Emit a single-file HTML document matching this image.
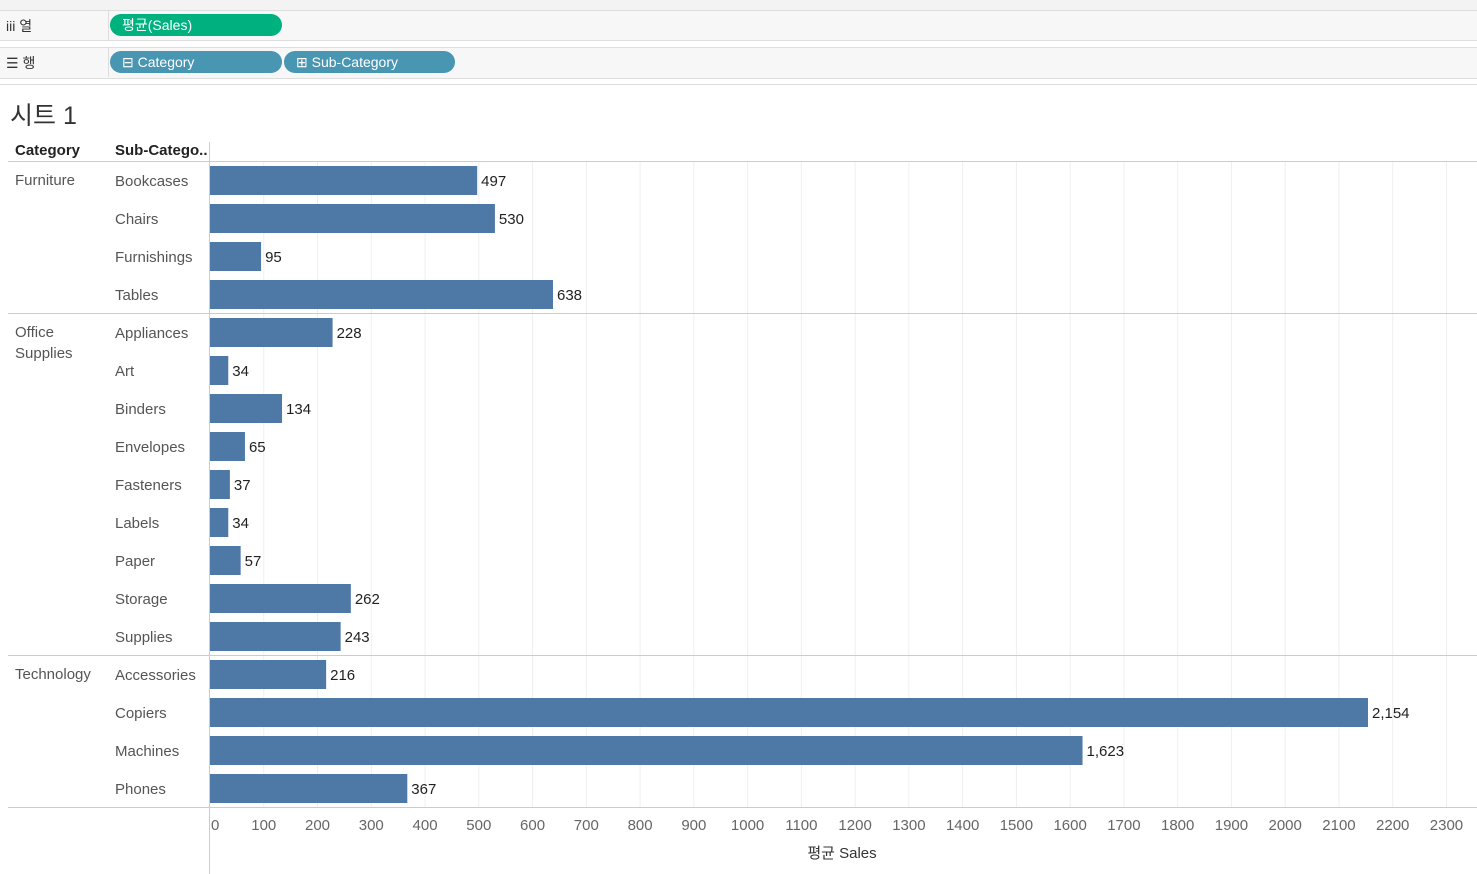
<!DOCTYPE html>
<html><head><meta charset="utf-8">
<style>
body{margin:0;width:1477px;height:874px;overflow:hidden;background:#fff;font-family:"Liberation Sans","Noto Sans CJK KR",sans-serif;position:relative}
.abs{position:absolute}
.pill{position:absolute;height:22px;border-radius:11px;color:#fff;font-size:14px;line-height:22px;padding-left:12px;box-sizing:border-box}
.t{position:absolute;font-size:14px;color:#555;white-space:nowrap}
</style></head><body>
<div class="abs" style="left:0;top:0;width:1477px;height:10px;background:#f3f3f3;border-bottom:1px solid #ddd"></div>
<div class="abs" style="left:0;top:11px;width:1477px;height:29px;background:#f7f7f7;border-bottom:1px solid #ddd"></div>
<div class="abs" style="left:108px;top:11px;width:1px;height:29px;background:#ddd"></div>
<div class="t" style="left:6px;top:16px;color:#333">iii 열</div>
<div class="pill" style="left:110px;top:14px;width:172px;background:#00b180">평균(Sales)</div>
<div class="abs" style="left:0;top:47px;width:1477px;height:30px;background:#f7f7f7;border-top:1px solid #ddd;border-bottom:1px solid #ddd"></div>
<div class="abs" style="left:108px;top:48px;width:1px;height:29px;background:#ddd"></div>
<div class="t" style="left:6px;top:53px;color:#333">☰ 행</div>
<div class="pill" style="left:110px;top:51px;width:172px;background:#4996b2">⊟ Category</div>
<div class="pill" style="left:284px;top:51px;width:171px;background:#4996b2">⊞ Sub-Category</div>
<div class="abs" style="left:0;top:84px;width:1477px;height:1px;background:#ddd"></div>
<div class="t" style="left:10px;top:96px;font-size:25px;color:#333">시트 1</div>
<div class="t" style="left:15px;top:142px;color:#222;font-size:15px;font-weight:bold">Category</div>
<div class="t" style="left:115px;top:142px;color:#222;font-size:15px;font-weight:bold">Sub-Catego..</div>
<svg id="chart" class="abs" style="left:0;top:0" width="1477" height="874"></svg>
<script>
const categories=["Furniture","Office\nSupplies","Technology"];
const subCats=["Bookcases","Chairs","Furnishings","Tables","Appliances","Art","Binders","Envelopes","Fasteners","Labels","Paper","Storage","Supplies","Accessories","Copiers","Machines","Phones"];
const groupSizes=[4,9,4];
const values=[497,530,95,638,228,34,134,65,37,34,57,262,243,216,2154,1623,367];
const ticks=[0,100,200,300,400,500,600,700,800,900,1000,1100,1200,1300,1400,1500,1600,1700,1800,1900,2000,2100,2200,2300];
const svg=document.getElementById('chart');const NS='http://www.w3.org/2000/svg';
const x=v=>210+v*0.5376;const top0=161,rh=38;
function mk(t,a){const e=document.createElementNS(NS,t);for(const k in a)e.setAttribute(k,a[k]);svg.appendChild(e);return e;}
ticks.forEach(t=>{if(t>0){const g=mk('line',{x1:x(t),x2:x(t),y1:top0,y2:807,stroke:'#efefef'});

}
const l=mk('text',{x:t===0?x(t)+1:x(t),y:830,'font-size':15,fill:'#666','text-anchor':t===0?'start':'middle','font-family':'Liberation Sans, sans-serif'});l.textContent=t;

});
mk('line',{x1:209.5,x2:209.5,y1:142,y2:874,stroke:'#ccc'});
mk('line',{x1:8,x2:1477,y1:161.5,y2:161.5,stroke:'#ccc'});
let idx=0;groupSizes.forEach((n,g)=>{const y0=top0+idx*rh;
const parts=categories[g].split('\n');parts.forEach((p,i)=>{const c=mk('text',{x:15,y:y0+24+i*21,'font-size':15,fill:'#555','font-family':'Liberation Sans, sans-serif'});c.textContent=p;

});
idx+=n;const yb=top0+idx*rh+0.5;mk('line',{x1:8,x2:1477,y1:yb,y2:yb,stroke:'#ccc'});});
values.forEach((v,i)=>{const y=top0+i*rh;
const s=mk('text',{x:115,y:y+25,'font-size':15,fill:'#555','font-family':'Liberation Sans, sans-serif'});s.textContent=subCats[i];


const b=mk('rect',{x:210,y:y+5,width:x(v)-210,height:29,fill:'#4e79a7'});


const t=mk('text',{x:x(v)+4,y:y+25,'font-size':15,fill:'#222','font-family':'Liberation Sans, sans-serif'});t.textContent=v.toLocaleString('en-US');

});
const at=mk('text',{x:842,y:858,'font-size':15,fill:'#333','text-anchor':'middle','font-family':'Liberation Sans, Noto Sans CJK KR, sans-serif'});at.textContent='평균 Sales';


</script>
</body></html>
